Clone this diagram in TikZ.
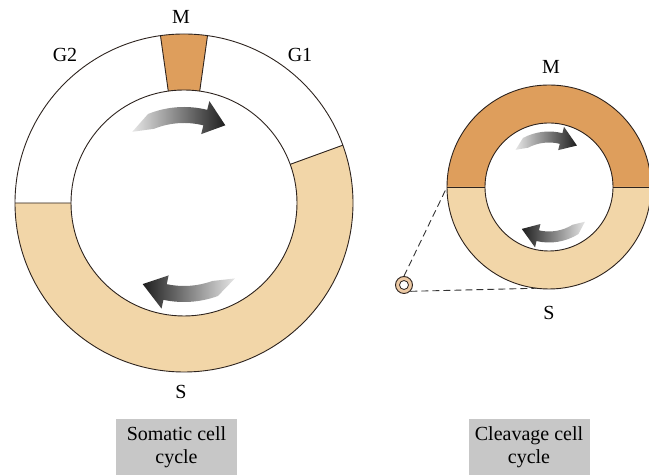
\documentclass[tikz,border=0pt]{standalone}
\usepackage{fontspec}
\setmainfont{Liberation Serif}
\usetikzlibrary{calc}
\definecolor{sphase}{RGB}{242,214,168}
\definecolor{mphase}{RGB}{222,158,92}
\definecolor{rimline}{RGB}{45,35,30}
\tikzset{
  ring/.style={
    draw=rimline,
    line width=0.9pt
  },
  phase/.style={
    inner sep=0pt,
    font=\fontsize{20}{24}\selectfont
  },
  caption/.style={
    fill=black!22,
    align=center,
    minimum width=121pt,
    minimum height=56pt,
    inner sep=1pt,
    font=\fontsize{20}{23}\selectfont
  },
  cell/.style={
    shape=circle,
    draw=rimline,
    fill=mphase!55,
    minimum size=17pt,
    inner sep=0pt,
    line width=0.9pt
  },
  guide/.style={
    draw=black!80,
    line width=0.9pt,
    dash pattern=on 7pt off 4pt
  }
}
% #1 centre, #2 radius, #3 tail angle, #4 head base angle, #5 tip angle,
% #6 body width, #7 head width, #8 shading
\newcommand{\cyclearrow}[8]{%
  \begin{scope}[shift={(#1)}]
    \shade[#8]
      (#3:#2) -- ({#3-14}:{#2+#6/2})
      arc[start angle={#3-14}, end angle=#4, radius={#2+#6/2}]
      -- (#4:{#2+#7/2}) -- (#5:#2) -- (#4:{#2-#7/2}) -- (#4:{#2-#6/2})
      arc[start angle=#4, end angle={#3-14}, radius={#2-#6/2}]
      -- cycle;
  \end{scope}}

\begin{document}
\begin{tikzpicture}[x=1pt,y=1pt]
  \useasboundingbox (0,0) rectangle (649,476);
  \coordinate (somatic) at (184,273);
  \coordinate (cleavage) at (549,289);

  % somatic cycle
  \begin{scope}[shift={(somatic)}]
    \fill[sphase] (20:169) arc[start angle=20, end angle=-180, radius=169]
      -- (180:113) arc[start angle=-180, end angle=20, radius=113] -- cycle;
    \fill[mphase] (82:169) arc[start angle=82, end angle=98, radius=169]
      -- (98:113) arc[start angle=98, end angle=82, radius=113] -- cycle;
    \draw[ring] (0,0) circle (169) (0,0) circle (113);
    \draw[ring] (20:113) -- (20:169) (82:113) -- (82:169)
      (98:113) -- (98:169) (180:113) -- (180:169);
  \end{scope}
  \cyclearrow{somatic}{88}{126}{76}{62}{16}{34}{left color=black!10, right color=black!88}
  \cyclearrow{somatic}{91}{-56}{-102}{-117}{16}{34}{left color=black!88, right color=black!10}

  \node[phase] (sm) at (181,459) {M};
  \node[phase] (sg2) at (65,421) {G2};
  \node[phase] (sg1) at (300,421) {G1};
  \node[phase] (ss) at (181,84) {S};

  % cleavage cycle
  \begin{scope}[shift={(cleavage)}]
    \fill[mphase] (0:102) arc[start angle=0, end angle=180, radius=102]
      -- (180:64) arc[start angle=180, end angle=0, radius=64] -- cycle;
    \fill[sphase] (0:102) arc[start angle=0, end angle=-180, radius=102]
      -- (180:64) arc[start angle=-180, end angle=0, radius=64] -- cycle;
    \draw[ring] (0,0) circle (102) (0,0) circle (64);
    \draw[ring] (0:64) -- (0:102) (180:64) -- (180:102);
  \end{scope}
  \cyclearrow{cleavage}{50}{132}{76}{56}{11}{24}{left color=black!10, right color=black!88}
  \cyclearrow{cleavage}{50}{-44}{-103}{-123}{11}{24}{left color=black!88, right color=black!10}

  \node[phase] (cm) at (551,409) {M};
  \node[phase] (cs) at (549,163) {S};

  \node[cell] (egg) at (404,191) {};
  \fill[white, draw=rimline, line width=0.8pt] (egg) circle (4.5);
  \coordinate (cwest) at ($(cleavage)+(180:102)$);
  \coordinate (touch) at ($(cleavage)+(263:102)$);
  \draw[guide] (egg.north) -- (cwest);
  \draw[guide] (egg.-45) -- (touch);

  \node[caption] (somaticcap) at (176.5,29) {Somatic cell\\cycle};
  \node[caption] (cleavagecap) at (529,28.5) {Cleavage cell\\cycle};
\end{tikzpicture}
\end{document}
